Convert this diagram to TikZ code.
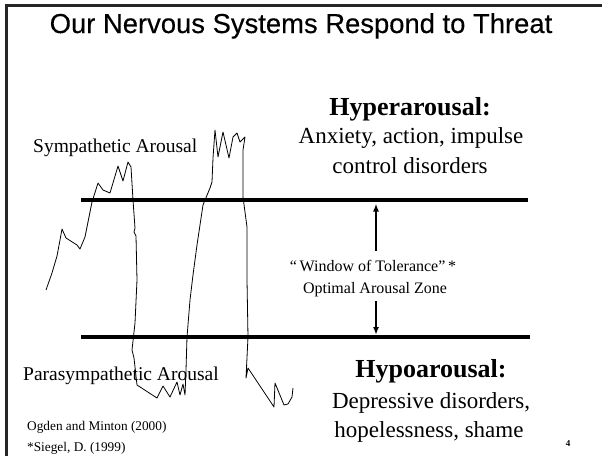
\documentclass[tikz,border=0pt]{standalone}
\usepackage{fontspec}
\setmainfont{Liberation Serif}
\newfontfamily\titlefont[FakeBold=0.3]{Liberation Sans}
\usetikzlibrary{arrows.meta}
\tikzset{
  frameline/.style={line width=3pt, black!85},
  zoneline/.style={line width=3.5pt},
  zonearrow/.style={line width=1.6pt, -{Latex[length=8pt,width=6pt]}},
  trace/.style={line width=0.8pt, line join=round},
  lbl/.style={anchor=base, inner sep=0pt, align=center},
}
\begin{document}
\begin{tikzpicture}[x=1pt,y=-1pt]
\useasboundingbox (0,0) rectangle (602,455);
\fill[white] (0,0) rectangle (602,455);
% frame
\draw[frameline] (6.5,456) -- (6.5,5) -- (603,5);
% title
\node[lbl] (title) at (301,33) {\titlefont\fontsize{27.4}{30}\selectfont Our Nervous Systems Respond to Threat};
% zone lines
\coordinate (tl) at (81,200); \coordinate (tr) at (528,200);
\coordinate (bl) at (81,337); \coordinate (br) at (530,337);
\draw[zoneline] (tl) -- (tr);
\draw[zoneline] (bl) -- (br);
% window text
\node[lbl] (wot) at (373,271) {\fontsize{16}{18}\selectfont “\,Window of Tolerance”\,*};
\node[lbl] (oaz) at (375,293) {\fontsize{16}{18}\selectfont Optimal Arousal Zone};
\coordinate (upS) at (376,251); \coordinate (upE) at (376,203.5);
\coordinate (dnS) at (376,301); \coordinate (dnE) at (376,335);
\draw[zonearrow] (upS) -- (upE);
\draw[zonearrow] (dnS) -- (dnE);
% hyper text
\node[lbl] (hyper) at (410,115) {\fontsize{26}{28}\selectfont\bfseries Hyperarousal:};
\node[lbl] (hyper1) at (411,143) {\fontsize{23}{26}\selectfont Anxiety, action, impulse};
\node[lbl] (hyper2) at (410,173) {\fontsize{23}{26}\selectfont control disorders};
% hypo text
\node[lbl] (hypo) at (431,377) {\fontsize{26}{28}\selectfont\bfseries Hypoarousal:};
\node[lbl] (hypo1) at (431,408) {\fontsize{23}{26}\selectfont Depressive disorders,};
\node[lbl] (hypo2) at (429,437) {\fontsize{23}{26}\selectfont hopelessness, shame};
% side labels
\node[lbl, anchor=base west] (symp) at (33,152) {\fontsize{19.5}{22}\selectfont Sympathetic Arousal};
\node[lbl, anchor=base west] (para) at (23,380) {\fontsize{19.5}{22}\selectfont Parasympathetic Arousal};
\node[lbl, anchor=base west] (ref1) at (27,430) {\fontsize{13.3}{15}\selectfont Ogden and Minton (2000)};
\node[lbl, anchor=base west] (ref2) at (27,451) {\fontsize{13.3}{15}\selectfont *Siegel, D. (1999)};
\node[lbl] (pnum) at (568,446) {\fontsize{9}{10}\selectfont\bfseries 4};
% arousal trace
\draw[trace] (46,290) -- (52,273) -- (57,256) -- (60,240) -- (62,229) -- (66,238)
  -- (77,245) -- (80,249) -- (85,237) -- (88,222) -- (92,202) -- (98,183)
  -- (103,190) -- (110,193) -- (118,166) -- (123,181) -- (128,162) -- (131,167)
  -- (133,200) -- (135,228) -- (134,232) -- (136,236) -- (137,280) -- (135,323)
  -- (132,350) -- (134,358) -- (137,385) -- (157,398) -- (163,386) -- (170,397)
  -- (177,382) -- (180,395) -- (183,384) -- (185,395) -- (186,370) -- (187,337)
  -- (190,300) -- (193,275) -- (197,245) -- (203,205) -- (210,188) -- (212,182)
  -- (213,158) -- (215,130) -- (218,157) -- (223,132) -- (229,158) -- (233,137)
  -- (237,133) -- (240,142) -- (245,137) -- (243,150) -- (243,197) -- (247,227)
  -- (247,280) -- (248,337) -- (246,378) -- (248,368) -- (274,407) -- (275,383)
  -- (284,405) -- (288,404) -- (292,397) -- (293,388);
\end{tikzpicture}
\end{document}
